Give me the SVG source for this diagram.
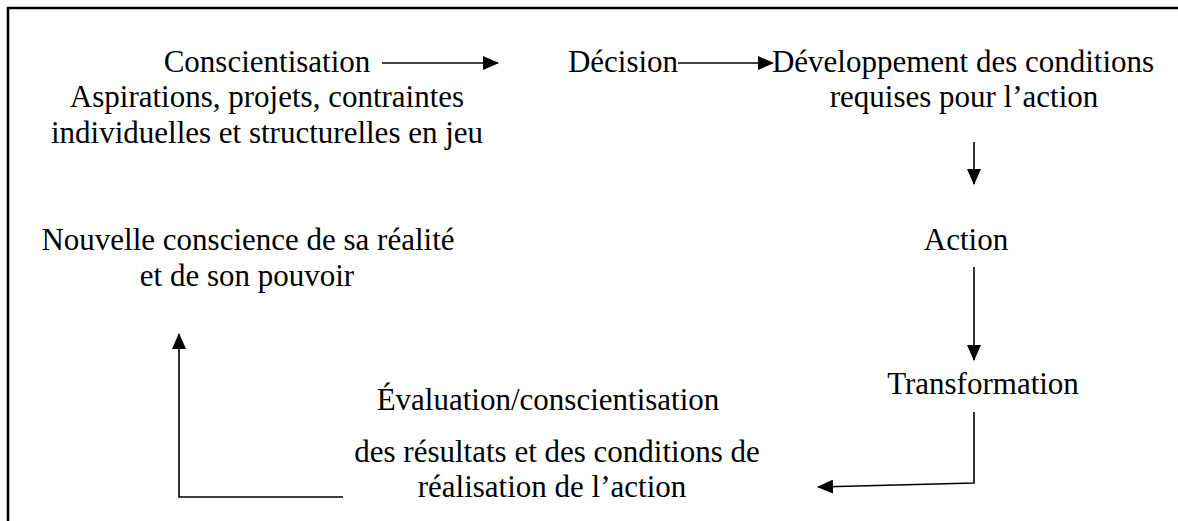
<svg xmlns="http://www.w3.org/2000/svg" width="1178" height="521" viewBox="0 0 1178 521">
<style>
text{font-family:"Liberation Serif","Times New Roman",serif;font-size:31px;fill:#000;text-anchor:middle}
.c{fill:none;stroke:#000;stroke-width:1.6}
.frame{fill:none;stroke:#000;stroke-width:2.5}
</style>
<defs>
<marker id="ah" markerUnits="userSpaceOnUse" markerWidth="16" markerHeight="14" viewBox="0 0 16 14" refX="15" refY="7" orient="auto">
<path d="M0,0 L16,7 L0,14 Z" fill="#000"/>
</marker>
</defs>
<rect width="1178" height="521" fill="#fff"/>
<path class="frame" d="M8,521 L8,8 L1178,8"/>
<g id="n1"><text x="267" y="72">Conscientisation</text><text x="267" y="107">Aspirations, projets, contraintes</text><text x="267" y="143">individuelles et structurelles en jeu</text></g>
<g id="n2"><text x="623" y="72">Décision</text></g>
<g id="n3"><text x="963" y="72">Développement des conditions</text><text x="964" y="107">requises pour l’action</text></g>
<g id="n4"><text x="966" y="250">Action</text></g>
<g id="n5"><text x="983" y="394">Transformation</text></g>
<g id="n6"><text x="548" y="410">Évaluation/conscientisation</text><text x="557" y="462">des résultats et des conditions de</text><text x="552" y="497">réalisation de l’action</text></g>
<g id="n7"><text x="248" y="250">Nouvelle conscience de sa réalité</text><text x="247" y="286">et de son pouvoir</text></g>
<g id="connectors">
<path class="c" d="M382,63 L498,63" marker-end="url(#ah)"/>
<path class="c" d="M678,63 L773,63" marker-end="url(#ah)"/>
<path class="c" d="M974,142 L974,184" marker-end="url(#ah)"/>
<path class="c" d="M974,267 L974,360" marker-end="url(#ah)"/>
<path class="c" d="M974,412 L974,483 L818,487" marker-end="url(#ah)"/>
<path class="c" d="M343,497 L179,497 L179,334" marker-end="url(#ah)"/>
</g>
</svg>
